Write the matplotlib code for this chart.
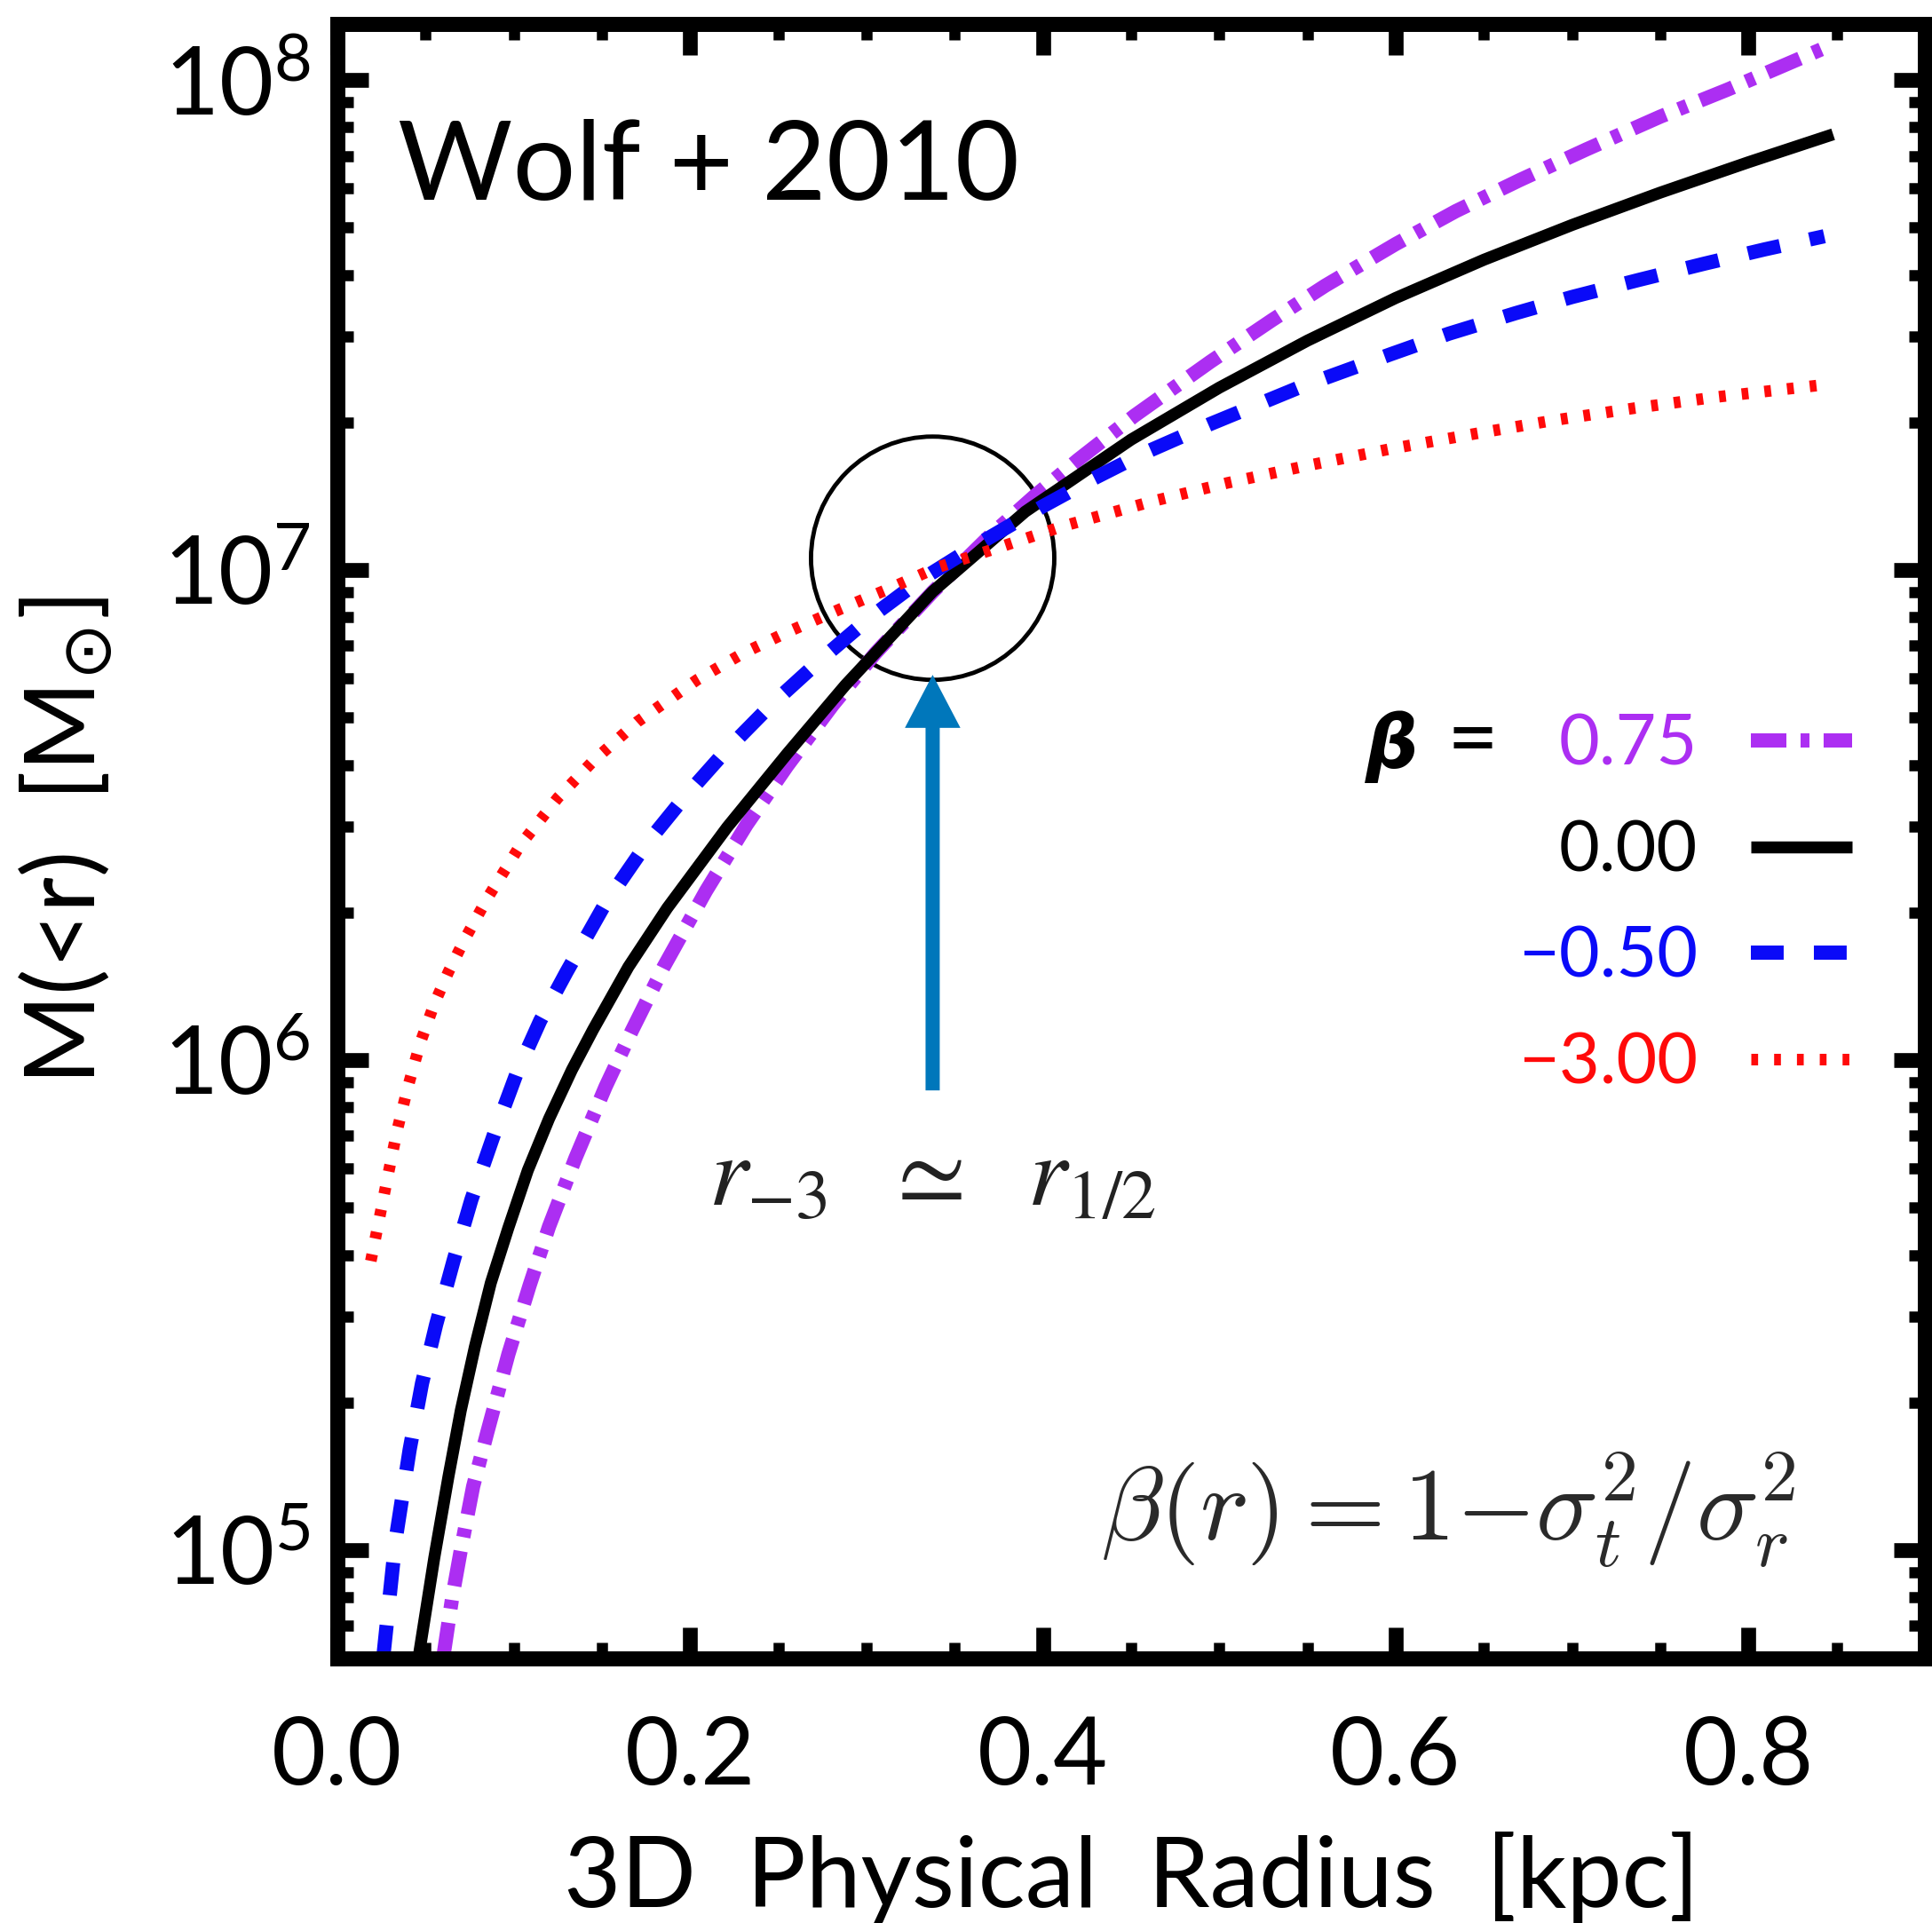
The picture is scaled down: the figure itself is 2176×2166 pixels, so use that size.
import numpy as np
import matplotlib
matplotlib.use("Agg")
import matplotlib.pyplot as plt
from matplotlib.patches import Circle
from matplotlib.transforms import ScaledTranslation
from matplotlib.ticker import FixedLocator, MultipleLocator, LogLocator, FuncFormatter, NullFormatter

# ---------------- data ----------------
beta_values = ["0.75", "0.00", "\u22120.50", "\u22123.00"]

# beta = 0.75
r_p075 = [0.060, 0.065, 0.070, 0.077, 0.085, 0.097, 0.109, 0.120, 0.135, 0.152, 0.167,
          0.185, 0.209, 0.232, 0.255, 0.281, 0.305, 0.3375, 0.370, 0.395, 0.420, 0.452,
          0.495, 0.530, 0.560, 0.600, 0.634, 0.670, 0.708, 0.750, 0.788, 0.843]
logm_p075 = [4.78, 4.90, 5.00, 5.13, 5.24, 5.40, 5.54, 5.66, 5.80, 5.945, 6.06,
             6.19, 6.345, 6.48, 6.60, 6.725, 6.83, 6.955, 7.07, 7.15, 7.225, 7.315,
             7.425, 7.51, 7.58, 7.665, 7.732, 7.795, 7.858, 7.925, 7.98, 8.065]

# beta = 0
r_p000 = [0.046, 0.055, 0.063, 0.070, 0.078, 0.087, 0.097, 0.108, 0.120, 0.133, 0.145,
          0.165, 0.187, 0.221, 0.255, 0.288, 0.3375, 0.390, 0.450, 0.500, 0.550, 0.600,
          0.650, 0.700, 0.750, 0.800, 0.848]
logm_p000 = [4.78, 4.985, 5.15, 5.285, 5.415, 5.545, 5.658, 5.775, 5.88, 5.98, 6.062,
             6.19, 6.31, 6.475, 6.625, 6.765, 6.956, 7.119, 7.266, 7.372, 7.468, 7.555,
             7.633, 7.704, 7.77, 7.832, 7.889]

# beta = -0.5
r_m050 = [0.026, 0.033, 0.041, 0.048, 0.056, 0.066, 0.076, 0.089, 0.102, 0.115, 0.130,
          0.152, 0.175, 0.196, 0.220, 0.246, 0.275, 0.301, 0.330, 0.362, 0.400, 0.429,
          0.457, 0.495, 0.545, 0.597, 0.630, 0.668, 0.700, 0.738, 0.775, 0.809, 0.843]
logm_m050 = [4.78, 5.02, 5.205, 5.34, 5.46, 5.592, 5.715, 5.85, 5.976, 6.08, 6.18,
             6.32, 6.44, 6.533, 6.63, 6.725, 6.82, 6.90, 6.978, 7.05, 7.13, 7.187,
             7.238, 7.298, 7.372, 7.44, 7.482, 7.524, 7.557, 7.592, 7.625, 7.654, 7.681]

# beta = -3
r_m300 = [0.019, 0.024, 0.029, 0.034, 0.040, 0.047, 0.055, 0.063, 0.072, 0.085, 0.104,
          0.125, 0.145, 0.170, 0.204, 0.230, 0.255, 0.285, 0.313, 0.340, 0.370, 0.412,
          0.462, 0.505, 0.550, 0.597, 0.645, 0.689, 0.735, 0.782, 0.843]
logm_m300 = [5.59, 5.68, 5.77, 5.858, 5.945, 6.035, 6.115, 6.18, 6.245, 6.33, 6.44,
             6.535, 6.61, 6.69, 6.776, 6.83, 6.873, 6.92, 6.962, 7.005, 7.04, 7.09,
             7.14, 7.178, 7.213, 7.247, 7.278, 7.305, 7.33, 7.353, 7.378]

r_half = 0.3375            # marked radius (circle centre / arrow)
logm_half = 7.024          # circle centre mass
logm_arrow_tip = 6.786
logm_arrow_tail = 5.938
logm_arrow_text = 5.705

x_ticks = [0.0, 0.2, 0.4, 0.6, 0.8]
x_tick_labels = ["0.0", "0.2", "0.4", "0.6", "0.8"]
y_ticks = [1e5, 1e6, 1e7, 1e8]

# ---------------- style ----------------
plt.rcParams["font.family"] = ["Lato", "DejaVu Sans"]
plt.rcParams["lines.scale_dashes"] = False

purple = "#AC2EF2"
black = "#000000"
blue = "#0A0AF8"
red = "#FF0A0A"
arrow_c = "#0077BB"

fig = plt.figure(figsize=(21.76, 21.66), dpi=100)
ax = fig.add_axes([0.1746, 0.1376, 0.9963 - 0.1746, 0.9875 - 0.1376])

series = [
    (r_p075, logm_p075, purple, 11.5, (0, (28.8, 11.5, 7.2, 11.5))),
    (r_p000, logm_p000, black, 9.7, "-"),
    (r_m050, logm_m050, blue, 11.5, (0, (26.6, 24.5))),
    (r_m300, logm_m300, red, 9.4, (0, (5.5, 13.0))),
]
handles = []
for (r, lm, c, lw, ls), lab in zip(series, beta_values):
    h, = ax.plot(r, 10 ** np.asarray(lm), color=c, lw=lw, linestyle=ls,
                 solid_capstyle="butt", dash_capstyle="butt",
                 solid_joinstyle="round", label=lab)
    handles.append(h)

ax.set_xlim(0, 0.9)
ax.set_yscale("log")
ax.set_ylim(10 ** 4.779, 10 ** 8.114)

def xfmt(v, p):
    for t, s in zip(x_ticks, x_tick_labels):
        if abs(v - t) < 1e-6:
            return s
    return ""

ax.xaxis.set_major_locator(FixedLocator(x_ticks))
ax.xaxis.set_major_formatter(FuncFormatter(xfmt))
ax.xaxis.set_minor_locator(MultipleLocator(0.05))
ax.yaxis.set_major_locator(FixedLocator(y_ticks))
ax.yaxis.set_major_formatter(FuncFormatter(lambda v, p: r"$\mathregular{10^{%d}}$" % round(np.log10(v))))
ax.yaxis.set_minor_locator(LogLocator(base=10, subs=np.arange(2, 10)))
ax.yaxis.set_minor_formatter(NullFormatter())

ax.tick_params(which="both", direction="in", top=True, right=True, labelsize=76)
ax.tick_params(which="major", length=25, width=12)
ax.tick_params(which="minor", length=13, width=9)
ax.tick_params(axis="x", which="major", pad=46)
ax.tick_params(axis="y", which="major", pad=22)
for s in ax.spines.values():
    s.set_linewidth(12.2)

ax.set_xlabel("3D  Physical  Radius  [kpc]", fontsize=80)
ax.xaxis.set_label_coords(0.5, -0.106)
ax.xaxis.label.set_va("top")
ax.set_ylabel(r"M(<r)  [M$_{\odot}$]", fontsize=79)
ax.yaxis.set_label_coords(-0.141, 0.5)

# title-like label
ax.text(0.038, 0.8925, "Wolf + 2010", transform=ax.transAxes, fontsize=90,
        ha="left", va="baseline")

# legend
leg = ax.legend(handles=handles, loc="upper right", bbox_to_anchor=(0.9541, 0.578),
                frameon=False, markerfirst=False, fontsize=57, handlelength=1.44,
                handletextpad=0.76, labelspacing=0.60, borderpad=0, borderaxespad=0)
for t, h in zip(leg.get_texts(), handles):
    t.set_color(h.get_color())
ax.text(0.6477, 0.5448, "\u03b2", transform=ax.transAxes, fontsize=60,
        family=["DejaVu Sans"], fontstyle="italic", fontweight="bold",
        ha="left", va="baseline")
ax.text(0.699, 0.5448, "=", transform=ax.transAxes, fontsize=72,
        ha="left", va="baseline")

# circle around the crossing point
circ = Circle((0, 0), radius=1.37, fill=False, ec="black", lw=3.5,
              transform=fig.dpi_scale_trans + ScaledTranslation(r_half, 10 ** logm_half, ax.transData))
ax.add_patch(circ)

# arrow
ax.annotate("", xy=(r_half, 10 ** logm_arrow_tip), xytext=(r_half, 10 ** logm_arrow_tail),
            arrowprops=dict(arrowstyle="simple,head_length=4.3,head_width=4.5,tail_width=1.15",
                            mutation_scale=10, fc=arrow_c, ec="none", lw=0,
                            shrinkA=0, shrinkB=0))

ax.text(r_half, 10 ** logm_arrow_text, r"$r_{-3}\ \ \simeq\ \ r_{1/2}$", fontsize=81,
        math_fontfamily="stix", ha="center", va="baseline", color="#222222")

ax.text(0.700, 0.072, r"$\beta(r) = 1{-}\sigma_t^2/\sigma_r^2$", transform=ax.transAxes,
        fontsize=84, math_fontfamily="cm", ha="center", va="baseline", color="#2a2a2a")

fig.savefig("out.png", dpi=100)
